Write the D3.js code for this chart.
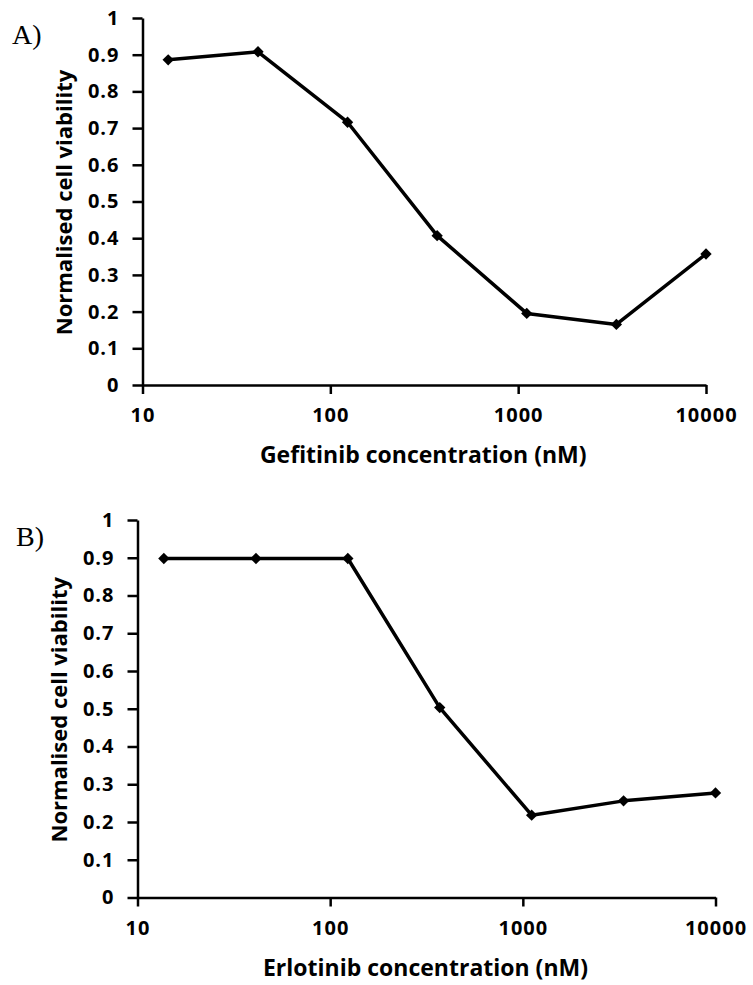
<!DOCTYPE html>
<html>
<head>
<title>Cell viability</title>
<style>
  body { margin: 0; background: #fff; }
  .axis path, .axis line { stroke: #000; stroke-width: 2.5px; }
  .axis text { font: bold 20px "Open Sans", sans-serif; fill: #000; letter-spacing: 1px; }
  .title { font: bold 23px "Open Sans", sans-serif; fill: #000; }
  .ytitle { font: bold 22px "Open Sans", sans-serif; fill: #000; }
  .panel { font: 28px "Liberation Serif", serif; fill: #000; }
</style>
</head>
<body>
<script src="https://cdnjs.cloudflare.com/ajax/libs/d3/7.8.5/d3.min.js"></script>
<script>
var conc = [13.7, 41.2, 123.5, 370.4, 1111, 3333, 10000];
var gefitinib = [0.886, 0.908, 0.716, 0.407, 0.195, 0.165, 0.357];
var erlotinib = [0.898, 0.898, 0.898, 0.503, 0.218, 0.256, 0.277];
var xTicks = [10, 100, 1000, 10000];
var yTicks = [0, 0.1, 0.2, 0.3, 0.4, 0.5, 0.6, 0.7, 0.8, 0.9, 1];

var width = 753, height = 985;

var svg = d3.select("body").append("svg")
  .attr("width", width)
  .attr("height", height);

var panels = [
  { label: "A)", lx: 12, ly: 44, values: gefitinib, xTitle: "Gefitinib concentration (nM)",
    left: 142.5, right: 706, top: 18, bottom: 385 },
  { label: "B)", lx: 16, ly: 546, values: erlotinib, xTitle: "Erlotinib concentration (nM)",
    left: 137.5, right: 715.5, top: 520, bottom: 897.5 }
];

panels.forEach(function(p) {
  var x = d3.scaleLog().domain([10, 10000]).range([p.left, p.right]);
  var y = d3.scaleLinear().domain([0, 1]).range([p.bottom, p.top]);

  svg.append("text").attr("class", "panel")
    .attr("x", p.lx).attr("y", p.ly).text(p.label);

  svg.append("g").attr("class", "axis")
    .attr("transform", "translate(" + p.left + ",0)")
    .call(d3.axisLeft(y).tickValues(yTicks).tickSize(10).tickSizeOuter(0).tickPadding(13)
      .tickFormat(function(d) { return d3.format("")(d); }));

  svg.append("g").attr("class", "axis")
    .attr("transform", "translate(0," + p.bottom + ")")
    .call(d3.axisBottom(x).tickValues(xTicks).tickSize(9).tickSizeOuter(0).tickPadding(14)
      .tickFormat(d3.format("d")));

  svg.append("text").attr("class", "title")
    .attr("text-anchor", "middle")
    .attr("x", (p.left + p.right) / 2 - 1)
    .attr("y", p.bottom + 78)
    .text(p.xTitle);

  svg.append("text").attr("class", "ytitle")
    .attr("text-anchor", "middle")
    .attr("transform", "translate(" + (p.left - 71) + "," + ((p.top + p.bottom) / 2 + 1) + ") rotate(-90)")
    .text("Normalised cell viability");

  var pts = conc.map(function(c, i) { return [c, p.values[i]]; });

  svg.append("path")
    .datum(pts)
    .attr("fill", "none")
    .attr("stroke", "#000")
    .attr("stroke-width", 3.5)
    .attr("stroke-linejoin", "round")
    .attr("d", d3.line().x(function(d) { return x(d[0]); }).y(function(d) { return y(d[1]); }));

  svg.selectAll(null)
    .data(pts)
    .enter().append("path")
    .attr("transform", function(d) { return "translate(" + x(d[0]) + "," + y(d[1]) + ") rotate(45)"; })
    .attr("d", d3.symbol().type(d3.symbolSquare).size(64))
    .attr("fill", "#000");
});
</script>
</body>
</html>
